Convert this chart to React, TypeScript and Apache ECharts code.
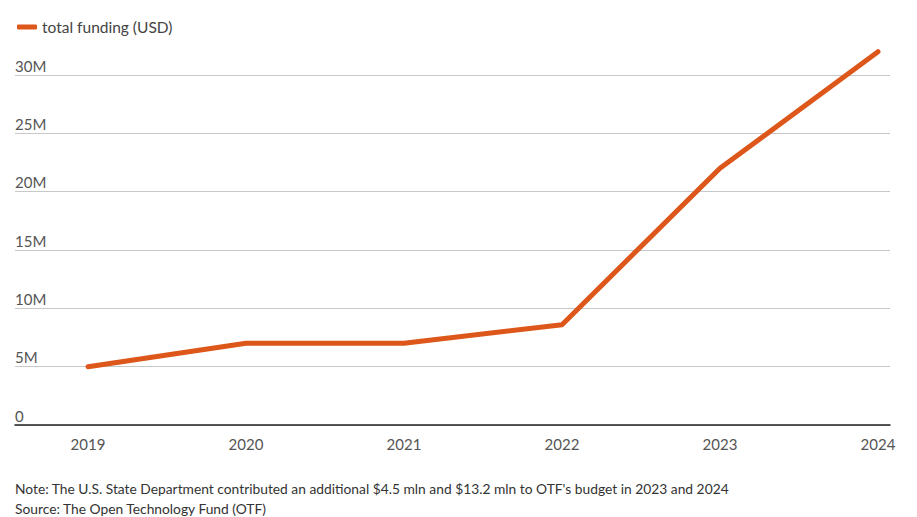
import React, { useEffect, useRef } from "react";
import * as echarts from "echarts";

const years = [2019, 2020, 2021, 2022, 2023, 2024];
const funding = [5.0e6, 7.0e6, 7.0e6, 8.6e6, 22.0e6, 32.0e6];
const yTicks = [0, 5e6, 10e6, 15e6, 20e6, 25e6, 30e6];
const seriesName = "total funding (USD)";
const noteText = "Note: The U.S. State Department contributed an additional $4.5 mln and $13.2 mln to OTF's budget in 2023 and 2024";
const sourceText = "Source: The Open Technology Fund (OTF)";

const FONT = "Lato, 'Source Sans Pro', 'Noto Sans', sans-serif";
const ORANGE = "#dd561a";

export default function App() {
  const ref = useRef<HTMLDivElement>(null);
  useEffect(() => {
    document.body.style.margin = "0";
    const chart = echarts.init(ref.current!, null, { renderer: "svg" });
    chart.setOption({
      animation: false,
      textStyle: { fontFamily: FONT },
      legend: {
        left: 12,
        top: 14,
        icon: "roundRect",
        itemWidth: 20,
        itemHeight: 5,
        itemGap: 4,
        textStyle: { fontSize: 15.5, color: "#444", fontFamily: FONT },
        data: [seriesName],
      },
      grid: { left: 15, right: 27, top: 75, bottom: 92, containLabel: false },
      xAxis: {
        type: "value",
        min: 2018.538,
        max: 2024.076,
        axisLine: { show: true, onZero: false, lineStyle: { color: "#222", width: 1.5 } },
        axisTick: { show: false },
        splitLine: { show: false },
        axisLabel: {
          customValues: years,
          margin: 11,
          fontSize: 15,
          color: "#555",
          fontFamily: FONT,
          formatter: (v: number) => String(Math.round(v)),
        },
      },
      yAxis: {
        type: "value",
        min: 0,
        max: 30e6,
        interval: 5e6,
        axisLine: { show: false },
        axisTick: { show: false },
        splitLine: { show: true, lineStyle: { color: "#c8c8c8", width: 1 } },
        axisLabel: {
          inside: true,
          margin: 0,
          verticalAlign: "bottom",
          padding: [0, 0, 2, 0],
          fontSize: 15,
          color: "#555",
          fontFamily: FONT,
          formatter: (v: number) => (yTicks.indexOf(v) >= 0 ? (v === 0 ? "0" : `${v / 1e6}M`) : ""),
        },
      },
      series: [
        {
          name: seriesName,
          type: "line",
          clip: false,
          showSymbol: false,
          symbol: "none",
          color: ORANGE,
          lineStyle: { width: 5, color: ORANGE, cap: "round", join: "round" },
          data: years.map((y, i) => [y, funding[i]]),
        },
      ],
      graphic: [
        {
          type: "text",
          left: 15,
          top: 481,
          style: { text: noteText, fontSize: 13.8, fill: "#333", fontFamily: FONT },
        },
        {
          type: "text",
          left: 15,
          top: 501,
          style: { text: sourceText, fontSize: 13.8, fill: "#333", fontFamily: FONT },
        },
      ],
    });
    return () => chart.dispose();
  }, []);
  return <div ref={ref} style={{ width: 917, height: 517 }} />;
}
